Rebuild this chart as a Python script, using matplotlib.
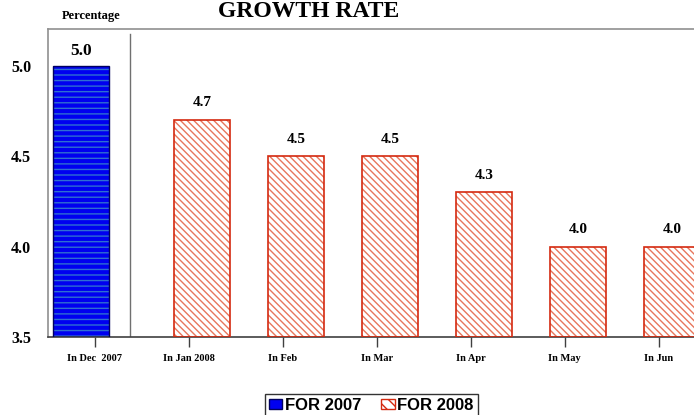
import matplotlib.pyplot as plt
import matplotlib.patches as mpatches
import numpy as np

months = ["In Dec  2007", "In Jan 2008", "In Feb", "In Mar", "In Apr", "In May", "In Jun"]
rate_2007 = [5.0]
rate_2008 = [4.7, 4.5, 4.5, 4.3, 4.0, 4.0]
yticks = [3.5, 4.0, 4.5, 5.0]

serif = "Liberation Serif"
blue = "#0000f0"
red = "#d42a10"

fig = plt.figure(figsize=(6.94, 4.15), dpi=100)
ax = fig.add_axes([0.069, 0.188, 0.948, 0.742])

x = np.arange(len(months))
w = 0.6

# 2007 bar (only December)
x07 = x[:1] - 0.15
ax.bar(x07, np.array(rate_2007) - 3.5, bottom=3.5, width=w, color=blue,
       edgecolor="#2f6fd0", hatch="---", linewidth=0, zorder=2)
ax.bar(x07, np.array(rate_2007) - 3.5, bottom=3.5, width=w, fill=False,
       edgecolor="#000060", linewidth=1.0, zorder=3)

# 2008 bars
x08 = x[1:] + 0.14
ax.bar(x08, np.array(rate_2008) - 3.5, bottom=3.5, width=w, color="white",
       edgecolor="#e8765c", hatch="\\\\\\\\\\", linewidth=0, zorder=2)
ax.bar(x08, np.array(rate_2008) - 3.5, bottom=3.5, width=w, fill=False,
       edgecolor=red, linewidth=1.2, zorder=3)

for xi, v in zip(x07, rate_2007):
    ax.text(xi, v + 0.04, f"{v:.1f}", ha="center", va="bottom",
            family=serif, fontweight="bold", fontsize=12.5)
for xi, v in zip(x08, rate_2008):
    ax.text(xi, v + 0.06, f"{v:.1f}", ha="center", va="bottom",
            family=serif, fontweight="bold", fontsize=11)

ax.axvline(0.37, ymin=0, ymax=0.985, color="#707070", lw=1)

ax.set_xlim(-0.5, 6.5)
ax.set_ylim(3.5, 5.205)
ax.set_yticks(yticks)
ax.set_yticklabels([f"{t:.1f}" for t in yticks], family=serif,
                   fontweight="bold", fontsize=11.5)
ax.tick_params(axis="y", length=0, pad=12)
ax.set_xticks(x)
ax.set_xticklabels(months, family=serif, fontweight="bold", fontsize=7.5)
ax.tick_params(axis="x", length=7, width=1, color="#404040", pad=5)

for s in ["left", "top", "right"]:
    ax.spines[s].set_color("#909090")
    ax.spines[s].set_linewidth(1.2)
ax.spines["bottom"].set_color("#404040")
ax.spines["bottom"].set_linewidth(1.2)

fig.text(0.089, 0.962, "Percentage", family=serif, fontweight="bold",
         fontsize=9, ha="left", va="center")
fig.text(0.445, 0.959, "GROWTH RATE", family=serif, fontweight="bold",
         fontsize=17, ha="center", va="baseline")

h1 = mpatches.Patch(facecolor=blue, edgecolor="#000060", label="FOR 2007")
h2 = mpatches.Patch(facecolor="white", edgecolor=red, hatch="\\\\\\",
                    label="FOR 2008")
leg = fig.legend(handles=[h1, h2], loc="upper center",
                 bbox_to_anchor=(0.535, 0.051),
                 ncol=2, frameon=True, fancybox=False, edgecolor="black",
                 prop={"family": "Liberation Sans", "weight": "bold", "size": 12},
                 handlelength=0.8, handleheight=0.6, handletextpad=0.15,
                 columnspacing=1.2, borderpad=0.25, borderaxespad=0)
leg.get_frame().set_linewidth(1.0)

fig.savefig("out.png", dpi=100)
